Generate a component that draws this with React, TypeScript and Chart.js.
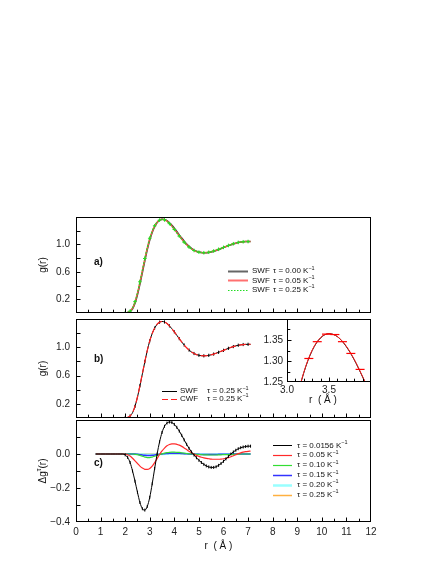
import React, { useEffect, useRef } from 'react';
import { Chart, registerables } from 'chart.js';

Chart.register(...registerables);

const FONT = '"Liberation Sans", Arial, Helvetica, sans-serif';

// ---------------- data ----------------
const rGrid = [0.8, 0.9, 1.0, 1.1, 1.2, 1.3, 1.4, 1.5, 1.6, 1.7, 1.8, 1.9,
  2.0, 2.1, 2.2, 2.3, 2.4, 2.5, 2.6, 2.7, 2.8, 2.9, 3.0, 3.1, 3.2, 3.3, 3.4, 3.5, 3.6, 3.7, 3.8, 3.9,
  4.0, 4.1, 4.2, 4.3, 4.4, 4.5, 4.6, 4.7, 4.8, 4.9, 5.0, 5.1, 5.2, 5.3, 5.4, 5.5, 5.6, 5.7, 5.8, 5.9,
  6.0, 6.1, 6.2, 6.3, 6.4, 6.5, 6.6, 6.7, 6.8, 6.9, 7.0, 7.1];

// panel a) SWF tau = 0.00
const gSWF000 = [0, 0, 0, 0, 0, 0, 0, 0, 0, 0, 0, 0,
  0.001, 0.006, 0.022, 0.062, 0.142, 0.265, 0.42, 0.59, 0.762, 0.925, 1.065, 1.175, 1.258, 1.318, 1.353, 1.367, 1.364, 1.346, 1.316, 1.278,
  1.235, 1.188, 1.14, 1.093, 1.048, 1.007, 0.971, 0.942, 0.918, 0.901, 0.889, 0.882, 0.879, 0.879, 0.883, 0.89, 0.9, 0.912, 0.925, 0.939,
  0.953, 0.968, 0.982, 0.995, 1.007, 1.018, 1.027, 1.034, 1.039, 1.042, 1.044, 1.044];
// panel a) SWF tau = 0.05
const gSWF005 = [0, 0, 0, 0, 0, 0, 0, 0, 0, 0, 0, 0,
  0.002, 0.007, 0.026, 0.07, 0.158, 0.286, 0.445, 0.615, 0.785, 0.945, 1.082, 1.189, 1.268, 1.323, 1.355, 1.366, 1.36, 1.339, 1.307, 1.267,
  1.223, 1.175, 1.127, 1.08, 1.036, 0.997, 0.963, 0.935, 0.914, 0.898, 0.888, 0.882, 0.879, 0.881, 0.885, 0.893, 0.903, 0.915, 0.928, 0.942,
  0.956, 0.97, 0.984, 0.997, 1.009, 1.019, 1.028, 1.035, 1.039, 1.041, 1.042, 1.042];
// panels a), b) SWF tau = 0.25
const gSWF025 = [0, 0, 0, 0, 0, 0, 0, 0, 0, 0, 0, 0,
  0.002, 0.008, 0.028, 0.075, 0.165, 0.295, 0.455, 0.625, 0.795, 0.955, 1.09, 1.195, 1.272, 1.325, 1.355, 1.365, 1.358, 1.336, 1.303, 1.262,
  1.218, 1.17, 1.122, 1.075, 1.032, 0.993, 0.96, 0.933, 0.912, 0.897, 0.887, 0.881, 0.879, 0.881, 0.886, 0.894, 0.904, 0.916, 0.929, 0.943,
  0.957, 0.971, 0.985, 0.998, 1.01, 1.02, 1.029, 1.035, 1.039, 1.041, 1.042, 1.042];
// panel b) CWF tau = 0.25
const gCWF025 = [0, 0, 0, 0, 0, 0, 0, 0, 0, 0, 0, 0,
  0.002, 0.009, 0.029, 0.076, 0.167, 0.297, 0.457, 0.627, 0.797, 0.957, 1.091, 1.196, 1.273, 1.326, 1.356, 1.365, 1.358, 1.337, 1.304, 1.263,
  1.219, 1.17, 1.122, 1.075, 1.032, 0.993, 0.96, 0.933, 0.912, 0.897, 0.887, 0.881, 0.879, 0.881, 0.886, 0.894, 0.904, 0.916, 0.929, 0.943,
  0.957, 0.971, 0.985, 0.998, 1.01, 1.02, 1.029, 1.035, 1.039, 1.041, 1.042, 1.042];
// inset: CWF points with error bars
const cwfBarR = [3.26, 3.36, 3.47, 3.57, 3.66, 3.76, 3.87];
const cwfBarG = [1.306, 1.346, 1.364, 1.363, 1.346, 1.318, 1.28];

// panel c) Delta g
const dg0156 = [0, 0, 0, 0, 0, 0, 0, 0, 0, 0, 0, 0,
  -0.005, -0.02, -0.05, -0.1, -0.16, -0.225, -0.285, -0.322, -0.33, -0.308, -0.255, -0.175, -0.085, 0.0, 0.072, 0.127, 0.163, 0.182, 0.188, 0.185,
  0.174, 0.157, 0.135, 0.11, 0.083, 0.057, 0.033, 0.012, -0.006, -0.022, -0.037, -0.05, -0.061, -0.07, -0.076, -0.079, -0.079, -0.075, -0.067, -0.056,
  -0.043, -0.029, -0.014, 0.0, 0.012, 0.022, 0.031, 0.037, 0.041, 0.044, 0.046, 0.046];
const dg005 = [0, 0, 0, 0, 0, 0, 0, 0, 0, 0, 0, 0,
  0, -0.004, -0.012, -0.025, -0.04, -0.056, -0.071, -0.083, -0.09, -0.091, -0.085, -0.071, -0.051, -0.027, -0.003, 0.018, 0.035, 0.048, 0.056, 0.06,
  0.06, 0.057, 0.052, 0.045, 0.036, 0.026, 0.016, 0.007, -0.001, -0.008, -0.014, -0.019, -0.023, -0.026, -0.028, -0.03, -0.031, -0.031, -0.031, -0.03,
  -0.028, -0.025, -0.021, -0.016, -0.01, -0.004, 0.002, 0.007, 0.011, 0.014, 0.016, 0.017];
const dg010 = [0, 0, 0, 0, 0, 0, 0, 0, 0, 0, 0, 0,
  0, 0, 0, 0, -0.002, -0.004, -0.008, -0.013, -0.018, -0.021, -0.021, -0.018, -0.013, -0.008, -0.003, 0.001, 0.005, 0.008, 0.01, 0.011,
  0.011, 0.01, 0.009, 0.007, 0.005, 0.003, 0.001, 0.0, -0.001, -0.002, -0.003, -0.004, -0.005, -0.005, -0.006, -0.006, -0.006, -0.006, -0.005, -0.005,
  -0.004, -0.004, -0.003, -0.002, -0.002, -0.001, -0.001, 0, 0, 0, 0, 0];
const dg015 = [0, 0, 0, 0, 0, 0, 0, 0, 0, 0, 0, 0,
  0, 0, 0, 0, 0, -0.002, -0.004, -0.006, -0.008, -0.009, -0.009, -0.008, -0.006, -0.004, -0.002, 0.0, 0.002, 0.003, 0.004, 0.005,
  0.005, 0.005, 0.004, 0.003, 0.002, 0.001, 0.0, -0.001, -0.001, -0.002, -0.002, -0.003, -0.003, -0.003, -0.003, -0.003, -0.003, -0.003, -0.002, -0.002,
  -0.002, -0.001, -0.001, -0.001, 0, 0, 0, 0, 0, 0, 0, 0];
const rCoarse = [0.8, 1.5, 2.0, 2.5, 3.0, 3.5, 4.0, 4.5, 5.0, 5.5, 6.0, 6.5, 7.0, 7.1];
const dg020 = [0, 0, 0, -0.001, -0.003, -0.001, 0.001, 0.001, 0, -0.001, 0, 0, 0, 0];
const dg025 = [0, 0, 0, 0, 0, 0, 0, 0, 0, 0, 0, 0, 0, 0];

const yTicksG = [0.2, 0.6, 1.0];
const yTicksDG = [-0.4, -0.2, 0.0];
const insetXTicks = [3.0, 3.5];
const insetYTicks = [1.25, 1.3, 1.35];

const pts = (xs: number[], ys: number[]) => xs.map((x, i) => ({ x, y: ys[i] }));

// ---------------- decoration plugin ----------------
type Part = { t: string; size: number; dy?: number; bold?: boolean };
type LegendItem = { color: string; width: number; dash?: number[]; cols: { x: number; parts: Part[] }[] };
interface Deco {
  xStep: number; xMajor: number; xLen: number;
  yStep: number; yMajor: number; yLen: number;
  whiteBg?: boolean;
  panelLabel?: { text: string; dx: number; dy: number };
  yTitle?: { parts: Part[]; dx: number };
  xTitle?: { text: string; dx: number; dy: number };
  legend?: { x: number; y: number; dy: number; line: number; items: LegendItem[] };
}

function font(p: Part) {
  return `${p.bold ? 'bold ' : ''}${p.size}px ${FONT}`;
}

function drawParts(ctx: CanvasRenderingContext2D, parts: Part[], x: number, y: number, align: 'left' | 'center') {
  const ws = parts.map((p) => { ctx.font = font(p); return ctx.measureText(p.t).width; });
  const total = ws.reduce((a, b) => a + b, 0);
  let cx = align === 'left' ? x : x - total / 2;
  ctx.textAlign = 'left';
  ctx.textBaseline = 'middle';
  parts.forEach((p, i) => {
    ctx.font = font(p);
    ctx.fillText(p.t, cx, y + (p.dy || 0));
    cx += ws[i];
  });
}

function makeDeco(cfg: Deco) {
  return {
    id: 'deco',
    beforeDatasetsDraw(chart: any) {
      if (!cfg.whiteBg) return;
      const a = chart.chartArea;
      const ctx = chart.ctx;
      ctx.save();
      ctx.fillStyle = '#fff';
      ctx.fillRect(a.left, a.top, a.right - a.left, a.bottom - a.top);
      ctx.restore();
    },
    afterDraw(chart: any) {
      const ctx: CanvasRenderingContext2D = chart.ctx;
      const a = chart.chartArea;
      const xs = chart.scales.x;
      const ys = chart.scales.y;
      const L = Math.round(a.left) + 0.5;
      const R = Math.round(a.right) - 0.5;
      const T = Math.round(a.top) + 0.5;
      const B = Math.round(a.bottom) - 0.5;
      ctx.save();
      ctx.strokeStyle = '#000';
      ctx.lineWidth = 1;
      ctx.setLineDash([]);
      ctx.strokeRect(L, T, R - L, B - T);
      ctx.beginPath();
      const nx = Math.round((xs.max - xs.min) / cfg.xStep);
      for (let i = 1; i < nx; i++) {
        const v = xs.min + i * cfg.xStep;
        const px = Math.round(xs.getPixelForValue(v)) + 0.5;
        const q = v / cfg.xMajor;
        const len = Math.abs(q - Math.round(q)) < 1e-6 ? cfg.xLen : cfg.xLen * 0.7;
        ctx.moveTo(px, B);
        ctx.lineTo(px, B - len);
      }
      const ny = Math.round((ys.max - ys.min) / cfg.yStep);
      for (let i = 1; i < ny; i++) {
        const v = ys.min + i * cfg.yStep;
        const py = Math.round(ys.getPixelForValue(v)) + 0.5;
        const q = v / cfg.yMajor;
        const len = Math.abs(q - Math.round(q)) < 1e-6 ? cfg.yLen : cfg.yLen * 0.7;
        ctx.moveTo(L, py);
        ctx.lineTo(L + len, py);
      }
      ctx.stroke();

      ctx.fillStyle = '#111';
      if (cfg.panelLabel) {
        drawParts(ctx, [{ t: cfg.panelLabel.text, size: 10, bold: true }], a.left + cfg.panelLabel.dx, a.top + cfg.panelLabel.dy, 'left');
      }
      if (cfg.yTitle) {
        ctx.save();
        ctx.translate(a.left + cfg.yTitle.dx, (a.top + a.bottom) / 2);
        ctx.rotate(-Math.PI / 2);
        drawParts(ctx, cfg.yTitle.parts, 0, 0, 'center');
        ctx.restore();
      }
      if (cfg.xTitle) {
        drawParts(ctx, [{ t: cfg.xTitle.text, size: 10 }], (a.left + a.right) / 2 + cfg.xTitle.dx, a.bottom + cfg.xTitle.dy, 'center');
      }
      if (cfg.legend) {
        const lg = cfg.legend;
        lg.items.forEach((it, k) => {
          const y = a.top + lg.y + k * lg.dy;
          const x = a.left + lg.x;
          ctx.save();
          ctx.strokeStyle = it.color;
          ctx.lineWidth = it.width;
          ctx.setLineDash(it.dash || []);
          ctx.beginPath();
          ctx.moveTo(x, Math.round(y) + 0.5);
          ctx.lineTo(x + lg.line, Math.round(y) + 0.5);
          ctx.stroke();
          ctx.restore();
          ctx.fillStyle = '#111';
          it.cols.forEach((c) => drawParts(ctx, c.parts, x + c.x, y, 'left'));
        });
      }
      ctx.restore();
    },
  };
}

// ---------------- chart helpers ----------------
const tickFont = { family: FONT, size: 10 };
const LEG = 8;

function yAxis(min: number, max: number, ticks: number[], width: number, digits: number, padding: number) {
  return {
    type: 'linear' as const,
    min,
    max,
    grid: { display: false, drawTicks: false },
    border: { display: false },
    afterBuildTicks: (s: any) => { s.ticks = ticks.map((v) => ({ value: v })); },
    afterFit: (s: any) => { s.width = width; },
    ticks: {
      font: tickFont,
      color: '#222',
      padding,
      callback: (v: any) => {
        const n = Number(v);
        const s = Math.abs(n).toFixed(digits);
        return n < -1e-9 ? '\u2212' + s : s;
      },
    },
  };
}

function xAxisHidden(min: number, max: number) {
  return { type: 'linear' as const, min, max, display: false };
}

const lineDefaults = {
  pointRadius: 0,
  cubicInterpolationMode: 'monotone' as const,
  fill: false,
};

function tau(v: string): Part[] {
  return [{ t: '\u03c4 = ' + v + ' K', size: LEG }, { t: '\u22121', size: 5.5, dy: -3 }];
}
function txt(t: string): Part[] {
  return [{ t, size: LEG }];
}

function buildA(canvas: HTMLCanvasElement) {
  return new Chart(canvas, {
    type: 'line',
    data: {
      datasets: [
        { ...lineDefaults, data: pts(rGrid, gSWF000), borderColor: '#3a3a3a', borderWidth: 1.5, order: 2 },
        { ...lineDefaults, data: pts(rGrid, gSWF005), borderColor: '#ff5050', borderWidth: 1.5, order: 1 },
        {
          ...lineDefaults, data: pts(rGrid, gSWF025), borderColor: '#22dd22', borderWidth: 1.2, borderDash: [2, 1.5], order: 0,
          pointStyle: 'cross', pointRadius: (c: any) => (c.dataIndex % 2 === 0 && c.dataIndex > 11 ? 1.8 : 0),
          pointBorderColor: '#22dd22', pointBorderWidth: 1,
        },
      ],
    },
    options: {
      responsive: false,
      animation: false,
      events: [],
      layout: { padding: { top: 12, bottom: 6, left: 0, right: 76 } },
      plugins: { legend: { display: false }, tooltip: { enabled: false } },
      scales: { x: xAxisHidden(0, 12), y: yAxis(0, 1.4, yTicksG, 76, 1, 6) },
    } as any,
    plugins: [makeDeco({
      xStep: 0.5, xMajor: 1, xLen: 4, yStep: 0.2, yMajor: 0.2, yLen: 4,
      panelLabel: { text: 'a)', dx: 18, dy: 45 },
      yTitle: { parts: [{ t: 'g(r)', size: 10 }], dx: -33 },
      legend: {
        x: 152, y: 54, dy: 9.3, line: 20,
        items: [
          { color: '#666', width: 2, cols: [{ x: 24, parts: txt('SWF') }, { x: 45, parts: tau('0.00') }] },
          { color: '#ff7070', width: 2, cols: [{ x: 24, parts: txt('SWF') }, { x: 45, parts: tau('0.05') }] },
          { color: '#22dd22', width: 1, dash: [1.5, 1.5], cols: [{ x: 24, parts: txt('SWF') }, { x: 45, parts: tau('0.25') }] },
        ],
      },
    })],
  });
}

function buildB(canvas: HTMLCanvasElement) {
  return new Chart(canvas, {
    type: 'line',
    data: {
      datasets: [
        {
          ...lineDefaults, data: pts(rGrid, gSWF025), borderColor: '#000', borderWidth: 1, order: 1,
          pointStyle: 'line', pointRotation: 90, pointRadius: (c: any) => (c.dataIndex > 11 && c.dataIndex % 2 === 0 ? 1.6 : 0),
          pointBorderColor: '#000', pointBorderWidth: 1,
        },
        { ...lineDefaults, data: pts(rGrid, gCWF025), borderColor: '#ff2020', borderWidth: 1.2, borderDash: [7, 3], order: 0 },
      ],
    },
    options: {
      responsive: false,
      animation: false,
      events: [],
      layout: { padding: { top: 19, bottom: 10, left: 0, right: 76 } },
      plugins: { legend: { display: false }, tooltip: { enabled: false } },
      scales: { x: xAxisHidden(0, 12), y: yAxis(0, 1.4, yTicksG, 76, 1, 6) },
    } as any,
    plugins: [makeDeco({
      xStep: 0.5, xMajor: 1, xLen: 4, yStep: 0.2, yMajor: 0.2, yLen: 4,
      panelLabel: { text: 'b)', dx: 18, dy: 40 },
      yTitle: { parts: [{ t: 'g(r)', size: 10 }], dx: -33 },
      legend: {
        x: 86, y: 72, dy: 7.8, line: 15,
        items: [
          { color: '#000', width: 1, cols: [{ x: 18, parts: txt('SWF') }, { x: 45, parts: tau('0.25') }] },
          { color: '#ff2020', width: 1.2, dash: [6, 3], cols: [{ x: 18, parts: txt('CWF') }, { x: 45, parts: tau('0.25') }] },
        ],
      },
    })],
  });
}

function buildInset(canvas: HTMLCanvasElement) {
  return new Chart(canvas, {
    type: 'line',
    data: {
      datasets: [
        { ...lineDefaults, data: pts(rGrid, gSWF025), borderColor: '#000', borderWidth: 1, order: 2 },
        { ...lineDefaults, data: pts(rGrid, gCWF025), borderColor: '#ff2020', borderWidth: 1, order: 1 },
        {
          data: pts(cwfBarR, cwfBarG), showLine: false, pointStyle: 'line', pointRadius: 4.5,
          pointBorderColor: '#ff0000', pointBorderWidth: 1.2, order: 0,
        },
      ],
    },
    options: {
      responsive: false,
      animation: false,
      events: [],
      layout: { padding: { top: 19, bottom: 0, left: 0, right: 76 } },
      plugins: { legend: { display: false }, tooltip: { enabled: false } },
      scales: {
        x: {
          type: 'linear', min: 3.0, max: 4.0,
          grid: { display: false, drawTicks: false },
          border: { display: false },
          afterBuildTicks: (s: any) => { s.ticks = insetXTicks.map((v) => ({ value: v })); },
          afterFit: (s: any) => { s.height = 48; },
          ticks: { font: tickFont, color: '#222', padding: 2, callback: (v: any) => Number(v).toFixed(1) },
        },
        y: yAxis(1.25, 1.4, insetYTicks, 37, 2, 4),
      },
    } as any,
    plugins: [makeDeco({
      xStep: 0.1, xMajor: 0.5, xLen: 4, yStep: 0.025, yMajor: 0.05, yLen: 4,
      whiteBg: true,
      xTitle: { text: 'r  ( \u00c5 )', dx: -6, dy: 18 },
    })],
  });
}

function buildC(canvas: HTMLCanvasElement) {
  return new Chart(canvas, {
    type: 'line',
    data: {
      datasets: [
        {
          ...lineDefaults, data: pts(rGrid, dg0156), borderColor: '#000', borderWidth: 1,
          pointStyle: 'line', pointRotation: 90, pointRadius: (c: any) => (c.dataIndex > 11 ? 1.5 : 0),
          pointBorderColor: '#000', pointBorderWidth: 1,
        },
        { ...lineDefaults, data: pts(rGrid, dg005), borderColor: '#ff2a2a', borderWidth: 1.2 },
        { ...lineDefaults, data: pts(rGrid, dg010), borderColor: '#33dd33', borderWidth: 1.2 },
        { ...lineDefaults, data: pts(rGrid, dg015), borderColor: '#3333ff', borderWidth: 1.5 },
        { ...lineDefaults, data: pts(rCoarse, dg020), borderColor: '#99ffff', borderWidth: 2 },
        { ...lineDefaults, data: pts(rCoarse, dg025), borderColor: '#ffb040', borderWidth: 1.5 },
      ],
    },
    options: {
      responsive: false,
      animation: false,
      events: [],
      layout: { padding: { top: 15, bottom: 0, left: 0, right: 76 } },
      plugins: { legend: { display: false }, tooltip: { enabled: false } },
      scales: {
        x: {
          type: 'linear', min: 0, max: 12,
          grid: { display: false, drawTicks: false },
          border: { display: false },
          afterFit: (s: any) => { s.height = 56; },
          ticks: { font: tickFont, color: '#222', padding: 4, stepSize: 1, callback: (v: any) => String(Math.round(Number(v))) },
        },
        y: yAxis(-0.4, 0.2, yTicksDG, 76, 1, 6),
      },
    } as any,
    plugins: [makeDeco({
      xStep: 0.5, xMajor: 1, xLen: 4, yStep: 0.1, yMajor: 0.1, yLen: 4,
      panelLabel: { text: 'c)', dx: 18, dy: 43 },
      yTitle: { parts: [{ t: '\u0394g', size: 10 }, { t: '\u03c4', size: 7, dy: -4 }, { t: '(r)', size: 10 }], dx: -33 },
      xTitle: { text: 'r  ( \u00c5 )', dx: -5, dy: 24 },
      legend: {
        x: 197, y: 25.3, dy: 9.9, line: 19,
        items: [
          { color: '#000', width: 1, cols: [{ x: 24, parts: tau('0.0156') }] },
          { color: '#ff2a2a', width: 1.2, cols: [{ x: 24, parts: tau('0.05') }] },
          { color: '#33dd33', width: 1.2, cols: [{ x: 24, parts: tau('0.10') }] },
          { color: '#3333ff', width: 1.5, cols: [{ x: 24, parts: tau('0.15') }] },
          { color: '#99ffff', width: 2.5, cols: [{ x: 24, parts: tau('0.20') }] },
          { color: '#ffb040', width: 1.5, cols: [{ x: 24, parts: tau('0.25') }] },
        ],
      },
    })],
  });
}

function ChartCanvas(props: { build: (c: HTMLCanvasElement) => Chart; left: number; top: number; width: number; height: number; z: number }) {
  const ref = useRef<HTMLCanvasElement>(null);
  useEffect(() => {
    const chart = props.build(ref.current as HTMLCanvasElement);
    return () => chart.destroy();
  }, []);
  return (
    <canvas
      ref={ref}
      width={props.width}
      height={props.height}
      style={{ position: 'absolute', left: props.left, top: props.top, width: props.width, height: props.height, zIndex: props.z }}
    />
  );
}

export default function App() {
  return (
    <div style={{ position: 'absolute', left: 0, top: 0, width: 447, height: 578, background: '#fff', overflow: 'hidden' }}>
      <ChartCanvas build={buildA} left={0} top={205} width={447} height={120} z={1} />
      <ChartCanvas build={buildB} left={0} top={300} width={447} height={130} z={2} />
      <ChartCanvas build={buildC} left={0} top={405} width={447} height={173} z={3} />
      <ChartCanvas build={buildInset} left={250} top={300} width={197} height={130} z={4} />
    </div>
  );
}
